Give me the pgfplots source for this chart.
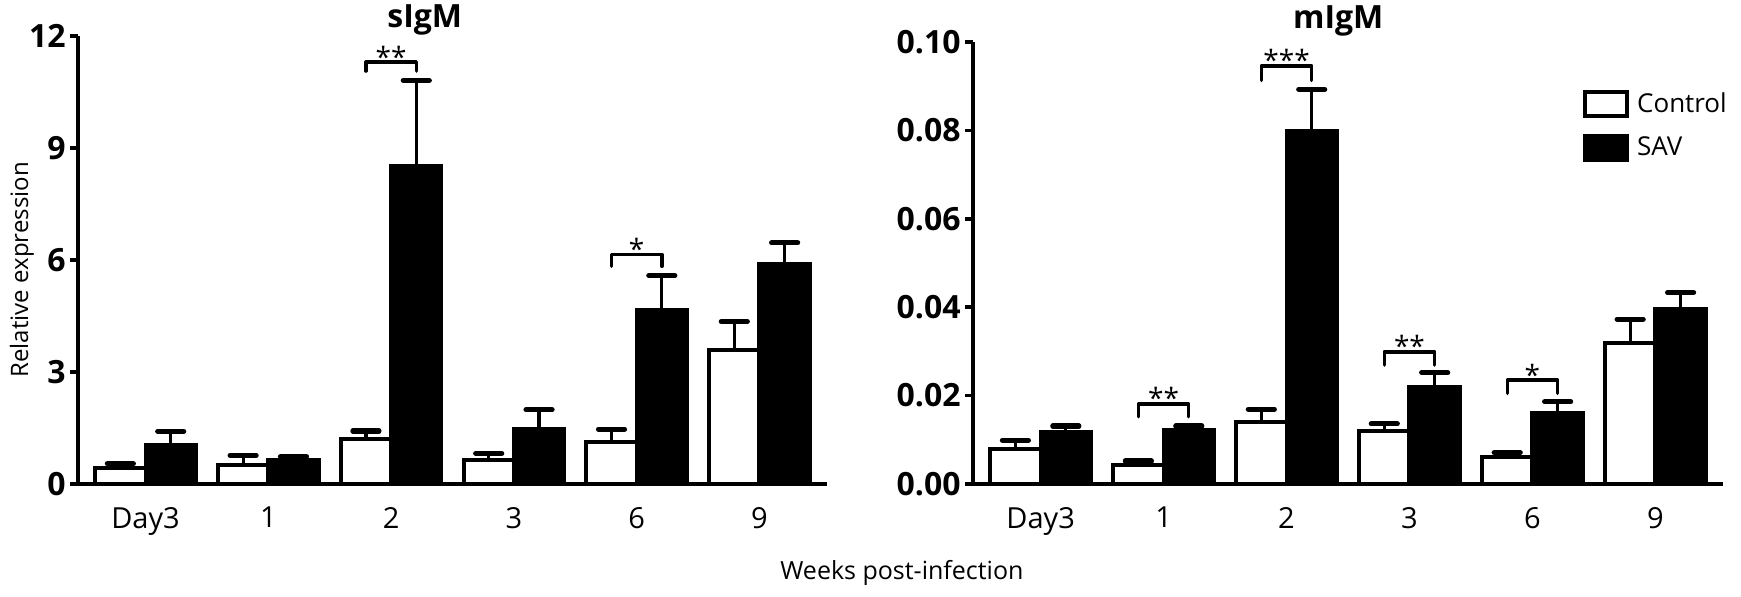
\documentclass[border=0pt]{standalone}
\usepackage{fontspec}
\setmainfont{Open Sans}
\usepackage{pgfplots}
\usepackage{pgfplotstable}
\pgfplotsset{compat=1.18}

\pgfplotstableread{
x ctrl ctrlerr sav saverr
0 0.44 0.10 1.05 0.36
1 0.52 0.25 0.63 0.10
2 1.20 0.22 8.53 2.28
3 0.65 0.17 1.47 0.52
4 1.12 0.35 4.67 0.91
5 3.58 0.77 5.88 0.58
}\sigm

\pgfplotstableread{
x ctrl ctrlerr sav saverr
0 0.0079 0.0020 0.0117 0.0014
1 0.0044 0.0008 0.0122 0.0009
2 0.0141 0.0028 0.0799 0.0094
3 0.0121 0.0015 0.0220 0.0032
4 0.0060 0.0011 0.0160 0.0026
5 0.0320 0.0053 0.0396 0.0037
}\migm

\pgfplotsset{
  panel/.style={
    scale only axis,
    anchor=south west,
    xmin=-0.55, xmax=5.55,
    ymin=0,
    axis x line=bottom, axis y line=left,
    axis line style={-, line width=1.8pt},
    xtick={0,1,2,3,4,5},
    xticklabels={Day3,1,2,3,6,9},
    xtick style={draw=none},
    ytick style={line width=1.8pt, black},
    tick align=outside,
    major tick length=4pt,
    xticklabel style={font=\fontsize{14.5}{17}\selectfont, yshift=-4pt},
    yticklabel style={font=\fontsize{16}{19}\selectfont\bfseries, inner xsep=2pt},
    /pgf/number format/assume math mode=true,
    clip=false,
  },
  errstyle/.style={
    error bars/y dir=plus, error bars/y explicit,
    error bars/error bar style={line width=1.6pt, black},
    error bars/error mark options={rotate=90, mark size=6.5pt, line width=2.6pt, line cap=round, black}},
  ctrlbar/.style={ybar, bar width=0.41, bar shift=0pt, draw=black, fill=white, line width=2pt, errstyle,
    legend image code/.code={\draw[draw=black, fill=white, line width=2pt] (0pt,-6pt) rectangle (21pt,6pt);}},
  savbar/.style={ybar, bar width=0.41, bar shift=0pt, draw=black, fill=black, line width=2pt, errstyle,
    legend image code/.code={\draw[draw=black, fill=black, line width=2pt] (0pt,-6pt) rectangle (21pt,6pt);}},
  brk/.style={forget plot, line width=1.7pt, line cap=round, line join=round, black, mark=none},
}
\newcommand{\stars}[1]{\fontsize{14}{14}\selectfont #1}
\newcommand{\ttl}[1]{\fontsize{16}{19}\selectfont\bfseries #1}

\begin{document}
\begin{tikzpicture}
\useasboundingbox (0,0) rectangle (870.5pt,298.5pt);

% ---------- sIgM ----------
\begin{axis}[panel,
  at={(39pt,56.5pt)}, width=374.5pt, height=224pt,
  ymax=12, ytick={0,3,6,9,12},
  ylabel={Relative expression},
  ylabel style={at={(axis description cs:-0.075,0.478)}, anchor=center, font=\fontsize{12}{14}\selectfont},
  xlabel={Weeks post-infection},
  xlabel style={at={(axis description cs:1.1,-0.199)}, anchor=center, font=\fontsize{12.5}{15}\selectfont},
]
\addplot[ctrlbar] table[x expr=\thisrow{x}-0.205, y=ctrl, y error=ctrlerr]{\sigm};
\addplot[savbar] table[x expr=\thisrow{x}+0.205, y=sav, y error=saverr]{\sigm};
\addplot[brk] coordinates {(1.795,11.06) (1.795,11.3) (2.205,11.3) (2.205,11.06)};
\addplot[brk] coordinates {(3.795,5.83) (3.795,6.15) (4.205,6.15) (4.205,5.83)};
\node[anchor=base, yshift=-2.5pt, inner sep=0pt] at (axis cs:2,11.3) {\stars{**}};
\node[anchor=base, yshift=-2.5pt, inner sep=0pt] at (axis cs:4,6.15) {\stars{*}};
\node[anchor=center, inner sep=0pt] at (axis description cs:0.463,1.035) {\ttl{sIgM}};
\end{axis}

% ---------- mIgM ----------
\begin{axis}[panel,
  at={(486.5pt,56.5pt)}, width=375pt, height=221pt,
  ymax=0.10, ytick={0,0.02,0.04,0.06,0.08,0.10},
  yticklabel={\pgfmathprintnumber[fixed, fixed zerofill, precision=2]{\tick}},
  scaled y ticks=false,
  legend style={at={(axis description cs:0.813,0.893)}, anchor=north west, draw=none, fill=none,
    inner sep=0pt, row sep=8pt, font=\fontsize{13}{15}\selectfont,
    nodes={inner xsep=4pt, inner ysep=0pt}},
  legend cell align=left,
]
\addplot[ctrlbar] table[x expr=\thisrow{x}-0.205, y=ctrl, y error=ctrlerr]{\migm};
\addlegendentry{Control}
\addplot[savbar] table[x expr=\thisrow{x}+0.205, y=sav, y error=saverr]{\migm};
\addlegendentry{SAV}
\addplot[brk] coordinates {(0.795,0.0152) (0.795,0.0181) (1.205,0.0181) (1.205,0.0152)};
\addplot[brk] coordinates {(1.795,0.0913) (1.795,0.0946) (2.205,0.0946) (2.205,0.0913)};
\addplot[brk] coordinates {(2.795,0.0269) (2.795,0.0299) (3.205,0.0299) (3.205,0.0269)};
\addplot[brk] coordinates {(3.795,0.0205) (3.795,0.0235) (4.205,0.0235) (4.205,0.0205)};
\node[anchor=base, yshift=-2.5pt, inner sep=0pt] at (axis cs:1,0.0181) {\stars{**}};
\node[anchor=base, yshift=-2.5pt, inner sep=0pt] at (axis cs:2,0.0946) {\stars{***}};
\node[anchor=base, yshift=-2.5pt, inner sep=0pt] at (axis cs:3,0.0299) {\stars{**}};
\node[anchor=base, yshift=-2.5pt, inner sep=0pt] at (axis cs:4,0.0235) {\stars{*}};
\node[anchor=center, inner sep=0pt] at (axis description cs:0.487,1.047) {\ttl{mIgM}};
\end{axis}
\end{tikzpicture}
\end{document}
